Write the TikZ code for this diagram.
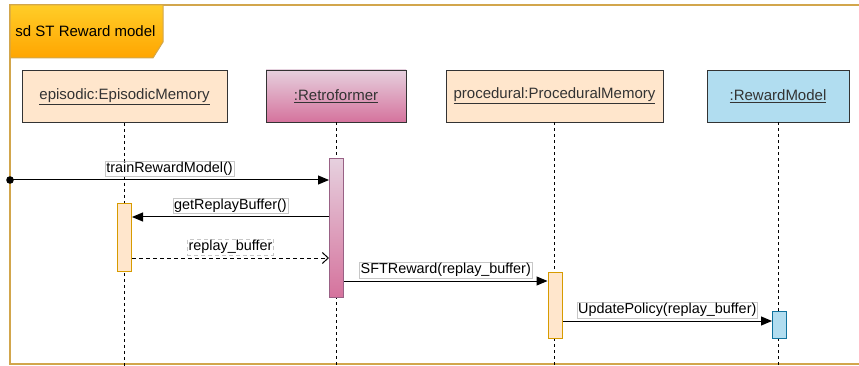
\documentclass[tikz,border=0pt]{standalone}
\usepackage{fontspec}
\setmainfont{Liberation Sans}
\usepackage{tikz}
\usetikzlibrary{positioning,arrows.meta}
\usepackage{xcolor}
\definecolor{framegold}{HTML}{D2A64C}
\definecolor{tabtop}{HTML}{FFCD28}
\definecolor{tabbot}{HTML}{FFA500}
\definecolor{peach}{HTML}{FFE6CC}
\definecolor{peachline}{HTML}{D79B00}
\definecolor{pinktop}{HTML}{E6D0DE}
\definecolor{pinkbot}{HTML}{D5739D}
\definecolor{pinkline}{HTML}{996185}
\definecolor{sky}{HTML}{B1DDF0}
\definecolor{skyline}{HTML}{10739E}
\definecolor{ink}{HTML}{333333}
\newcommand{\obj}[1]{\underline{#1}}

\begin{document}
\begin{tikzpicture}[x=1pt, y=-1pt, line join=miter,
    every node/.style={font=\fontsize{15}{18}\selectfont},
    head/.style={draw=ink, line width=0.8pt, minimum height=52pt, text=ink},
    life/.style={draw=black, line width=0.9pt, dash pattern=on 3pt off 3pt},
    act/.style={line width=1pt, minimum width=14pt, inner sep=0pt},
    msg/.style={line width=1pt, -{Triangle[length=11pt,width=9pt]}},
    reply/.style={line width=1pt, dash pattern=on 4pt off 3pt, -{Straight Barb[length=6pt,width=11pt]}},
    lbl/.style={fill=white, draw=black!22, line width=0.5pt, inner sep=1.2pt, above=3pt,
      font=\fontsize{14.4}{17}\selectfont}]
  \useasboundingbox (0,0) rectangle (859,366);
  \clip (0,0) rectangle (859,366);

  \draw[framegold, line width=1.4pt] (875,5) -- (10,5) -- (10,364) -- (875,364);
  \shade[top color=tabtop, bottom color=tabbot, draw=framegold, line width=1pt]
    (10,5) -- (163,5) -- (163,42) -- (153,58) -- (10,58) -- cycle;
  \node (title) at (85.5,31) {sd ST Reward model};

  \node[head, fill=peach, minimum width=205pt] (ehead) at (124.5,96.5) {\obj{episodic:EpisodicMemory}};
  \node[head, top color=pinktop, bottom color=pinkbot, minimum width=140pt] (rhead) at (336,96) {\obj{:Retroformer}};
  \node[head, fill=peach, minimum width=217pt] (phead) at (554.5,96) {\obj{procedural:ProceduralMemory}};
  \node[head, fill=sky, minimum width=142pt] (mhead) at (778,96) {\obj{:RewardModel}};

  \draw[life] (ehead) -- (ehead |- 0,370);
  \draw[life] (rhead) -- (rhead |- 0,370);
  \draw[life] (phead) -- (phead |- 0,370);
  \draw[life] (mhead) -- (mhead |- 0,370);

  \node[act, draw=pinkline, top color=pinktop, bottom color=pinkbot, minimum height=138pt] (ract) at (336.5,228) {};
  \node[act, draw=peachline, fill=peach, minimum height=67pt] (eact) at (124.5,237.5) {};
  \node[act, draw=peachline, fill=peach, minimum height=66pt] (pact) at (555,305) {};
  \node[act, draw=skyline, fill=sky, minimum height=27pt] (mact) at (779.5,325) {};

  \coordinate (start) at (10,180);
  \fill (start) circle (3.8pt);
  \draw[msg] (start) -- (start -| ract.west) node[lbl, midway] {trainRewardModel()};
  \draw[msg] (ract.west |- 0,217) -- (eact.east |- 0,217) node[lbl, midway] {getReplayBuffer()};
  \draw[reply] (eact.east |- 0,258) -- (ract.west |- 0,258) node[lbl, midway] {replay\_buffer};
  \draw[msg] (ract.east |- 0,281) -- (pact.west |- 0,281) node[lbl, midway] {SFTReward(replay\_buffer)};
  \draw[msg] (pact.east |- 0,321) -- (mact.west |- 0,321) node[lbl, midway] {UpdatePolicy(replay\_buffer)};
\end{tikzpicture}
\end{document}
